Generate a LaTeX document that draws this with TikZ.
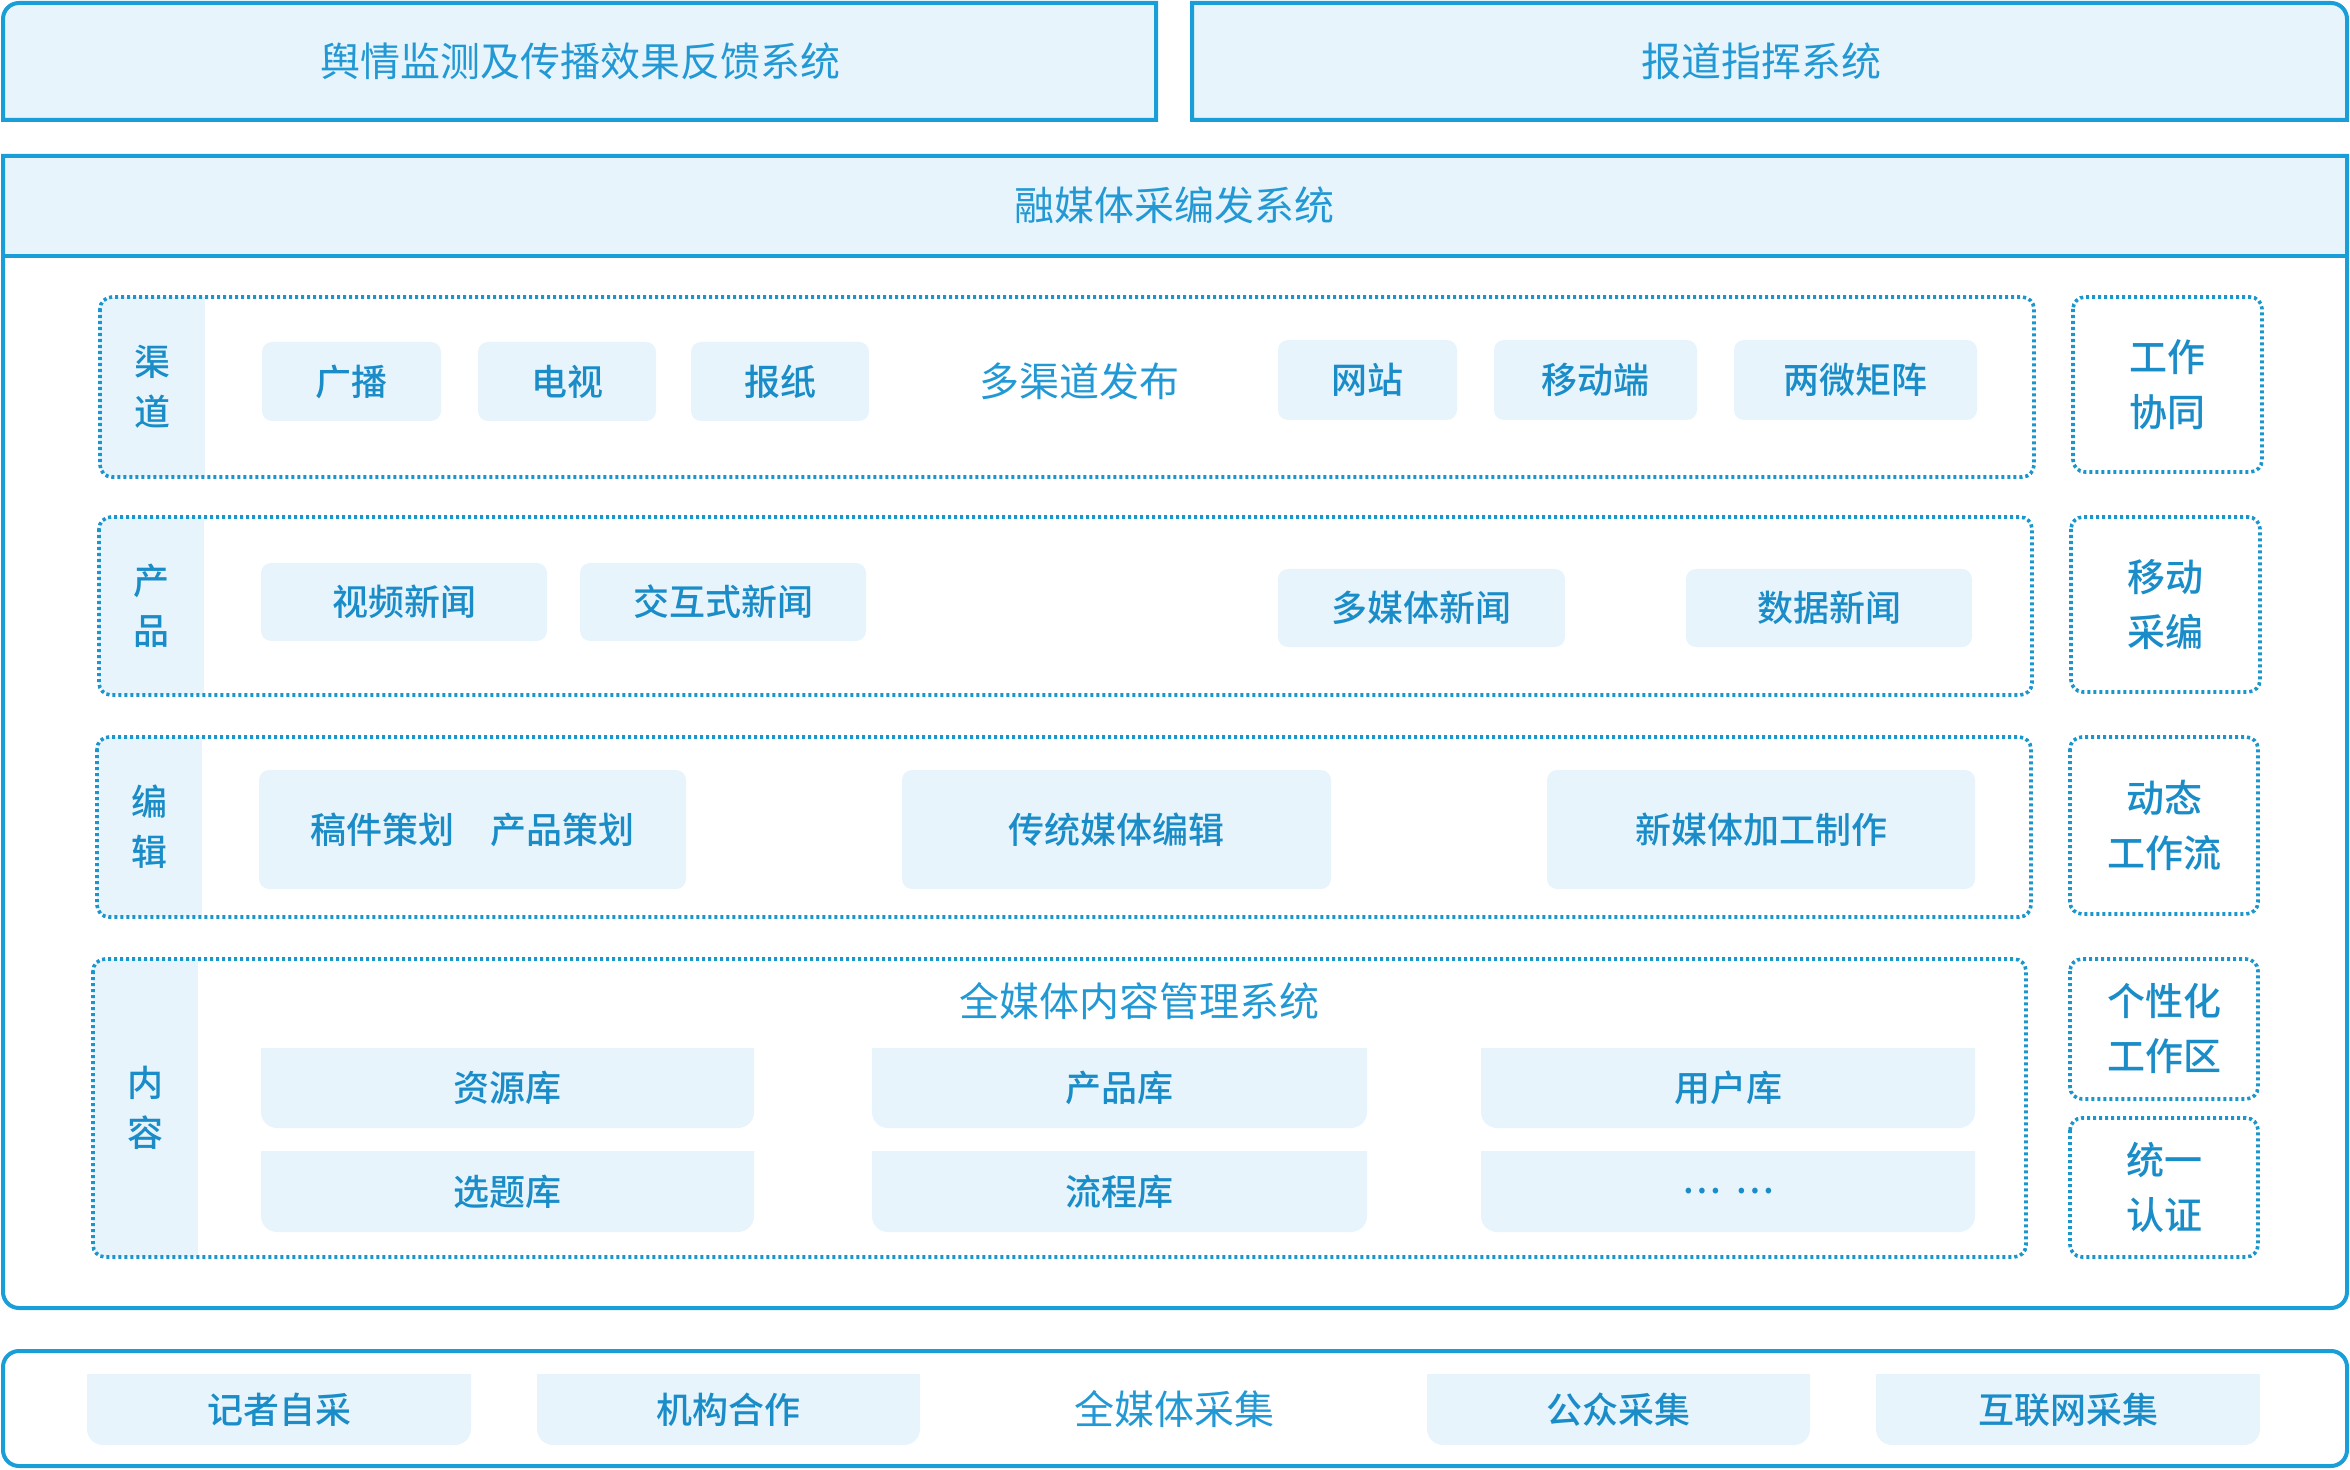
\documentclass[tikz,border=0pt]{standalone}
\usepackage{fontspec}
\setmainfont{Noto Sans CJK SC}[BoldFont={Noto Sans CJK SC Medium}]
\definecolor{bordc}{HTML}{1A9ED8}
\definecolor{dotc}{HTML}{1A96CC}
\definecolor{fillc}{HTML}{E8F4FB}
\definecolor{titc}{HTML}{2299D4}
\definecolor{itc}{HTML}{1A8DC9}
\newcommand\itembox[6]{%
  \fill[fillc, rounded corners=5pt] (#2,#3) rectangle (#4,#5);
  \node[itemtxt] (#1) at ({(#2+#4)/2},{(#3+#5)/2}) {#6};}
\newcommand\libbox[6]{%
  \fill[fillc] ({(#2+#4)/2},#3) -- (#4,#3) -- (#4,{(#3+#5)/2}) [rounded corners=8pt] -- (#4,#5) -- (#2,#5) -- (#2,{(#3+#5)/2}) [sharp corners] -- (#2,#3) -- cycle;
  \node[itemtxt] (#1) at ({(#2+#4)/2},{(#3+#5)/2}) {#6};}
\newcommand\rowbox[6]{% name x1 y1 x2 y2 label
  \begin{scope}
    \clip[rounded corners=6pt] (#2,#3) rectangle (#4,#5);
    \fill[fillc] (#2,#3) rectangle ({#2+105},#5);
  \end{scope}
  \draw[dotbox] (#2,#3) rectangle (#4,#5);
  \node[bandtxt] (#1) at ({#2+52},{(#3+#5)/2}) {#6};}
\newcommand\sidebox[6]{%
  \draw[dotbox] (#2,#3) rectangle (#4,#5);
  \node[sidetxt] (#1) at ({(#2+#4)/2},{(#3+#5)/2}) {#6};}
\begin{document}
\begin{tikzpicture}[x=0.5pt,y=-0.5pt,
  outer/.style={draw=bordc, line width=2pt},
  dotbox/.style={draw=dotc, line width=1.8pt, dash pattern=on 1.6pt off 1.4pt, rounded corners=6pt},
  titletxt/.style={text=titc, font=\fontsize{20}{24}\selectfont, inner sep=0pt},
  itemtxt/.style={text=itc, font=\fontsize{18}{22}\selectfont\bfseries, inner sep=0pt},
  bandtxt/.style={text=itc, font=\fontsize{18}{25}\selectfont\bfseries, align=center, inner sep=0pt},
  sidetxt/.style={text=itc, font=\fontsize{19}{27.5}\selectfont\bfseries, align=center, inner sep=0pt}]
\useasboundingbox (0,0) rectangle (2350,1470);
% top boxes
\filldraw[outer, fill=fillc] (3,60) [rounded corners=8pt] -- (3,3) -- (600,3) [sharp corners] -- (1156,3) -- (1156,120) -- (3,120) -- cycle;
\node[titletxt] (t1) at (580,61) {舆情监测及传播效果反馈系统};
\filldraw[outer, fill=fillc] (1192,60) -- (1192,3) -- (1800,3) [rounded corners=8pt] -- (2347,3) -- (2347,60) [sharp corners] -- (2347,120) -- (1192,120) -- cycle;
\node[titletxt] (t2) at (1761,61) {报道指挥系统};
% main box
\fill[fillc] (3,156) rectangle (2347,256);
\draw[outer] (1175,156) -- (2347,156) -- (2347,700) [rounded corners=8pt] -- (2347,1308) -- (3,1308) -- (3,700) [sharp corners] -- (3,156) -- cycle;
\draw[outer] (3,256) -- (2347,256);
\node[titletxt] (t3) at (1174,205) {融媒体采编发系统};
% row 1
\rowbox{r1}{100}{297}{2034}{477}{渠\\道}
\itembox{a1}{262}{342}{441}{421}{广播}
\itembox{a2}{478}{342}{656}{421}{电视}
\itembox{a3}{691}{342}{869}{421}{报纸}
\node[titletxt] (a4) at (1079,381) {多渠道发布};
\itembox{a5}{1278}{340}{1457}{420}{网站}
\itembox{a6}{1494}{340}{1697}{420}{移动端}
\itembox{a7}{1734}{340}{1977}{420}{两微矩阵}
\sidebox{s1}{2073}{297}{2262}{472}{工作\\协同}
% row 2
\rowbox{r2}{99}{517}{2032}{695}{产\\品}
\itembox{b1}{261}{563}{547}{641}{视频新闻}
\itembox{b2}{580}{563}{866}{641}{交互式新闻}
\itembox{b3}{1278}{569}{1565}{647}{多媒体新闻}
\itembox{b4}{1686}{569}{1972}{647}{数据新闻}
\sidebox{s2}{2071}{517}{2260}{692}{移动\\采编}
% row 3
\rowbox{r3}{97}{737}{2031}{917}{编\\辑}
\itembox{c1}{259}{770}{686}{889}{稿件策划\hspace{1em}产品策划}
\itembox{c2}{902}{770}{1331}{889}{传统媒体编辑}
\itembox{c3}{1547}{770}{1975}{889}{新媒体加工制作}
\sidebox{s3}{2070}{737}{2258}{914}{动态\\工作流}
% row 4
\rowbox{r4}{93}{959}{2026}{1257}{内\\容}
\node[titletxt] (d0) at (1139,1001) {全媒体内容管理系统};
\libbox{d1}{261}{1048}{754}{1128}{资源库}
\libbox{d2}{872}{1048}{1367}{1128}{产品库}
\libbox{d3}{1481}{1048}{1975}{1128}{用户库}
\libbox{d4}{261}{1151}{754}{1232}{选题库}
\libbox{d5}{872}{1151}{1367}{1232}{流程库}
\libbox{d6}{1481}{1151}{1975}{1232}{…\hspace{0.4em}…}
\sidebox{s4}{2070}{959}{2258}{1099}{个性化\\工作区}
\sidebox{s5}{2070}{1118}{2258}{1257}{统一\\认证}
% bottom box
\draw[outer, rounded corners=8pt] (3,1351) rectangle (2347,1466);
\node[titletxt] (e0) at (1174,1409) {全媒体采集};
\libbox{e1}{87}{1374}{471}{1445}{记者自采}
\libbox{e2}{537}{1374}{920}{1445}{机构合作}
\libbox{e3}{1427}{1374}{1810}{1445}{公众采集}
\libbox{e4}{1876}{1374}{2260}{1445}{互联网采集}
\end{tikzpicture}
\end{document}
